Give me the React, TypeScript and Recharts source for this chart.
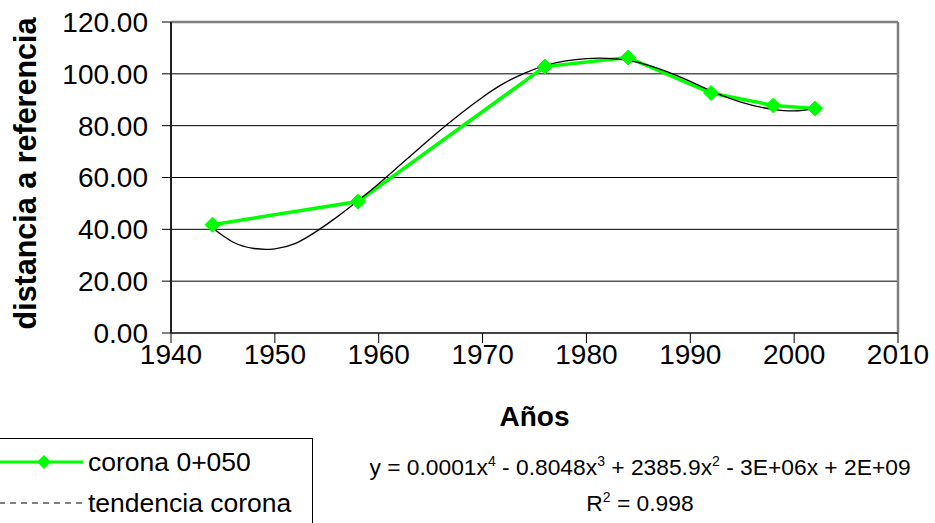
import React from "react";
import {
  CartesianGrid,
  Label,
  Line,
  LineChart,
  ReferenceLine,
  XAxis,
  YAxis,
} from "recharts";

const years = [1944, 1958, 1976, 1984, 1992, 1998, 2002];
const corona = [41.8, 50.7, 102.8, 106.3, 92.6, 87.8, 86.6];

// trend curve, every 2 years
const trendYears = [
  1944, 1946, 1948, 1950, 1952, 1954, 1956, 1958, 1960, 1962, 1964, 1966,
  1968, 1970, 1972, 1974, 1976, 1978, 1980, 1982, 1984, 1986, 1988, 1990,
  1992, 1994, 1996, 1998, 2000, 2002,
];
const trendValues = [
  40.5, 35.0, 32.6, 32.5, 34.6, 39.2, 44.8, 51.0, 57.6, 64.6, 71.6, 78.5,
  85.0, 91.0, 96.2, 100.2, 103.2, 105.0, 105.9, 106.0, 105.2, 103.3, 100.5,
  97.1, 93.4, 90.2, 87.8, 86.3, 85.7, 86.6,
];

const xTicks = [1940, 1950, 1960, 1970, 1980, 1990, 2000, 2010];
const yTicks = [0, 20, 40, 60, 80, 100, 120];

const seriesName = "corona 0+050";
const trendName = "tendencia corona";

const coronaData = years.map((year, i) => ({ year, value: corona[i] }));
const trendData = trendYears.map((year, i) => ({ year, value: trendValues[i] }));

const GREEN = "#00FF00";
const FONT = "'Liberation Sans', Arial, sans-serif";

function Diamond(props: any) {
  const { cx, cy, index } = props;
  const r = 7.5;
  return (
    <path
      key={"d" + index}
      d={`M${cx},${cy - r}L${cx + r},${cy}L${cx},${cy + r}L${cx - r},${cy}Z`}
      fill={GREEN}
      stroke={GREEN}
    />
  );
}

const supStyle: React.CSSProperties = {
  fontSize: 14,
  position: "relative",
  top: -9,
  verticalAlign: "baseline",
};

export default function App() {
  return (
    <div
      style={{
        position: "absolute",
        left: 0,
        top: 0,
        width: 935,
        height: 523,
        background: "#fff",
        fontFamily: FONT,
        overflow: "hidden",
      }}
    >
      <LineChart
        width={935}
        height={523}
        margin={{ top: 22, right: 37, left: 0, bottom: 150 }}
      >
        <CartesianGrid vertical={false} stroke="#000" strokeWidth={1} />
        <XAxis
          type="number"
          dataKey="year"
          domain={[1940, 2010]}
          ticks={xTicks}
          allowDataOverflow
          height={40}
          tickSize={10}
          tickMargin={1}
          stroke="#444"
          strokeWidth={2}
          tickLine={{ stroke: "#000", strokeWidth: 1 }}
          tick={{ fill: "#000", fontSize: 28, fontFamily: FONT }}
        >
          <Label
            value="Años"
            position="bottom"
            offset={33}
            style={{ fontSize: 28, fontWeight: "bold", fill: "#000", fontFamily: FONT }}
          />
        </XAxis>
        <YAxis
          type="number"
          domain={[0, 120]}
          ticks={yTicks}
          width={171}
          tickSize={9}
          tickMargin={14}
          stroke="#222"
          strokeWidth={2}
          tickLine={{ stroke: "#000", strokeWidth: 1 }}
          tickFormatter={(v: number) => v.toFixed(2)}
          tick={{ fill: "#000", fontSize: 28, fontFamily: FONT }}
        >
          <Label
            value="distancia a referencia"
            angle={-90}
            position="insideLeft"
            offset={25}
            dy={-4}
            textAnchor="middle"
            style={{
              fontSize: 30.5,
              fontWeight: "bold",
              fill: "#000",
              fontFamily: FONT,
              textAnchor: "middle",
            }}
          />
        </YAxis>
        <ReferenceLine y={120} stroke="#808080" strokeWidth={2.5} />
        <ReferenceLine x={2010} stroke="#808080" strokeWidth={2.5} />
        <Line
          data={coronaData}
          dataKey="value"
          name={seriesName}
          stroke={GREEN}
          strokeWidth={3.5}
          dot={<Diamond />}
          activeDot={false}
          isAnimationActive={false}
        />
        <Line
          data={trendData}
          dataKey="value"
          name={trendName}
          type="natural"
          stroke="#000"
          strokeWidth={1.3}
          dot={false}
          activeDot={false}
          isAnimationActive={false}
        />
      </LineChart>

      {/* legend box */}
      <div
        style={{
          position: "absolute",
          left: -2,
          top: 438,
          width: 315,
          height: 100,
          border: "1px solid #000",
          boxSizing: "border-box",
        }}
      >
        <svg width={90} height={90} style={{ position: "absolute", left: 0, top: 0 }}>
          <line x1={0} x2={84} y1={23} y2={23} stroke={GREEN} strokeWidth={3} />
          <path d="M45,16L52,23L45,30L38,23Z" fill={GREEN} />
          <line
            x1={0}
            x2={84}
            y1={64}
            y2={64}
            stroke="#000"
            strokeWidth={1}
            strokeDasharray="6 5"
          />
        </svg>
        <div
          style={{
            position: "absolute",
            left: 89,
            top: 7,
            fontSize: 26.5,
            lineHeight: "32px",
            whiteSpace: "nowrap",
          }}
        >
          {seriesName}
        </div>
        <div
          style={{
            position: "absolute",
            left: 89,
            top: 48,
            fontSize: 26.5,
            lineHeight: "32px",
            whiteSpace: "nowrap",
          }}
        >
          {trendName}
        </div>
      </div>

      {/* trendline equation */}
      <div
        style={{
          position: "absolute",
          left: 340,
          width: 600,
          top: 455,
          textAlign: "center",
          fontSize: 22.8,
          lineHeight: "24px",
          whiteSpace: "nowrap",
        }}
      >
        y = 0.0001x<sup style={supStyle}>4</sup> - 0.8048x
        <sup style={supStyle}>3</sup> + 2385.9x
        <sup style={supStyle}>2</sup> - 3E+06x + 2E+09
      </div>
      <div
        style={{
          position: "absolute",
          left: 340,
          width: 600,
          top: 491,
          textAlign: "center",
          fontSize: 22.8,
          lineHeight: "24px",
          whiteSpace: "nowrap",
        }}
      >
        R<sup style={supStyle}>2</sup> = 0.998
      </div>
    </div>
  );
}
